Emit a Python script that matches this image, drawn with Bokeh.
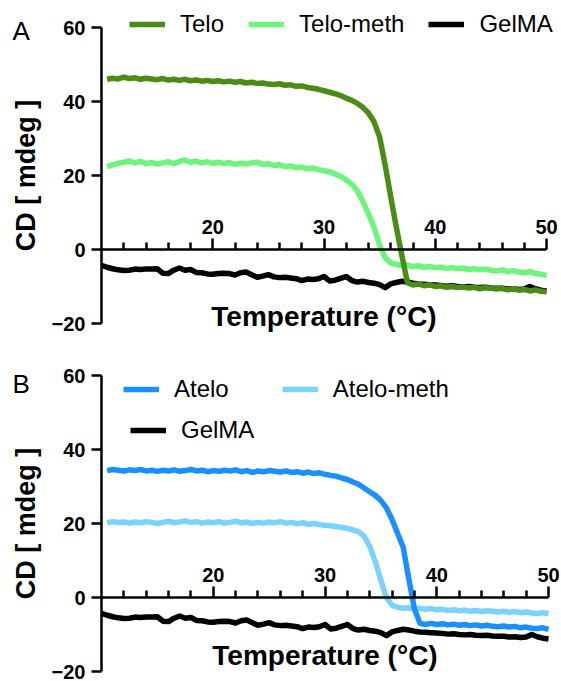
from bokeh.plotting import figure
from bokeh.models import Range1d, LinearAxis, FixedTicker, Legend, LegendItem, Label
from bokeh.layouts import column
from bokeh.embed import file_html
from bokeh.resources import INLINE

# ---------------- data ----------------
temp = [10.5, 11.0, 11.5, 12.0, 12.5, 13.0, 13.5, 14.0, 14.5, 15.0,
        15.5, 16.0, 16.5, 17.0, 17.5, 18.0, 18.5, 19.0, 19.5, 20.0,
        20.5, 21.0, 21.5, 22.0, 22.5, 23.0, 23.5, 24.0, 24.5, 25.0,
        25.5, 26.0, 26.5, 27.0, 27.5, 28.0, 28.5, 29.0, 29.5, 30.0,
        30.5, 31.0, 31.5, 32.0, 32.5, 33.0, 33.5, 34.0, 34.5, 35.0,
        35.5, 36.0, 36.5, 37.0, 37.5, 38.0, 38.5, 39.0, 39.5, 40.0,
        40.5, 41.0, 41.5, 42.0, 42.5, 43.0, 43.5, 44.0, 44.5, 45.0,
        45.5, 46.0, 46.5, 47.0, 47.5, 48.0, 48.5, 49.0, 49.5, 50.0]

gel_temp = [10.0, 10.5, 11.0, 11.5, 12.0, 12.5, 13.0, 13.5, 14.0, 14.5, 15.0,
            15.5, 16.0, 16.5, 17.0, 17.5, 18.0, 18.5, 19.0, 19.5, 20.0,
            20.5, 21.0, 21.5, 22.0, 22.5, 23.0, 23.5, 24.0, 24.5, 25.0,
            25.5, 26.0, 26.5, 27.0, 27.5, 28.0, 28.5, 29.0, 29.5, 30.0,
            30.5, 31.0, 31.5, 32.0, 32.5, 33.0, 33.5, 34.0, 34.5, 35.0,
            35.5, 36.0, 36.5, 37.0, 37.5, 38.0, 38.5, 39.0, 39.5, 40.0,
            40.5, 41.0, 41.5, 42.0, 42.5, 43.0, 43.5, 44.0, 44.5, 45.0,
            45.5, 46.0, 46.5, 47.0, 47.5, 48.0, 48.5, 49.0, 49.5, 50.0]

telo = [46.0, 46.3, 46.1, 46.6,
        46.2, 46.4, 46.0, 46.3, 46.1, 45.9,
        46.2, 45.8, 46.0, 45.7, 46.0, 45.6, 45.8, 45.5, 45.7, 45.4,
        45.6, 45.3, 45.5, 45.2, 45.4, 45.0, 45.2, 44.9, 45.0, 44.7,
        44.6, 44.8, 44.4, 44.5, 44.1, 44.2, 43.8, 43.6, 43.3, 42.9,
        42.5, 42.1, 41.6, 40.9, 40.3, 39.5, 38.4, 36.9, 34.5, 30.4,
        22.8, 14.2, 6.0, -1.6, -9.0, -9.6, -9.3, -9.8, -9.5, -10.0,
        -9.8, -10.2, -10.0, -10.3, -10.1, -10.4, -10.2, -10.6, -10.3, -10.5,
        -10.7, -10.5, -10.9, -10.6, -11.0, -10.8, -11.2, -10.9, -11.3, -11.4]

telo_meth = [22.4, 22.9, 23.3, 23.6,
             23.9, 23.4, 23.8, 23.2, 23.5, 23.1,
             23.4, 23.7, 23.2, 23.8, 24.2, 23.6, 23.9, 23.4, 23.7, 23.3,
             23.6, 23.2, 23.5, 23.0, 23.3, 23.1, 23.4, 23.6, 23.0, 23.2,
             22.7, 22.9, 22.4, 22.6, 22.1, 22.3, 21.8, 22.0, 21.6, 21.3,
             21.0, 20.4, 19.8, 18.8, 17.6, 15.9, 12.9, 9.6, 6.0, 1.2,
             -2.3, -3.6, -4.0, -4.3, -4.2, -4.6, -4.4, -4.8, -4.6, -4.9,
             -4.8, -5.1, -4.9, -5.2, -5.0, -5.4, -5.2, -5.5, -5.3, -5.6,
             -5.8, -5.5, -6.0, -5.7, -6.1, -6.3, -6.0, -6.5, -6.7, -7.0]

gelma = [-4.3, -4.8, -5.2, -5.5, -5.7, -5.6, -5.3, -5.4, -5.3, -5.3, -5.2,
         -6.4, -6.5, -5.6, -5.0, -5.6, -5.4, -6.2, -6.3, -6.6, -6.7,
         -6.5, -6.4, -6.5, -6.9, -6.3, -6.1, -6.8, -7.5, -7.2, -6.8,
         -7.4, -7.6, -7.5, -7.7, -7.9, -8.4, -8.0, -8.1, -7.9, -7.3,
         -8.5, -8.3, -7.8, -7.3, -8.4, -8.8, -8.6, -8.9, -9.1, -9.5,
         -10.3, -9.3, -8.9, -8.6, -8.8, -9.1, -9.3, -9.4, -9.5, -9.6,
         -9.7, -9.9, -9.8, -10.0, -10.1, -10.0, -10.2, -10.3, -10.2, -10.4,
         -10.5, -10.5, -10.7, -10.6, -10.8, -10.7, -10.0, -10.6, -11.0, -11.2]

atelo = [34.3, 34.6, 34.4, 34.2,
         34.5, 34.3, 34.6, 34.2, 34.4, 34.1,
         34.4, 34.2, 34.5, 34.1, 34.3, 34.6, 34.2, 34.4, 34.0, 34.3,
         34.1, 34.4, 34.2, 34.5, 34.0, 34.3, 33.8, 34.2, 34.0, 34.3,
         34.1, 33.9, 34.2, 33.8, 34.0, 33.6, 33.9, 33.5, 33.7, 33.3,
         33.0, 32.8, 32.3, 31.9, 31.2, 30.6, 29.6, 28.6, 27.6, 26.2,
         24.2, 21.1, 17.3, 13.6, 5.0, -3.0, -7.0, -7.3, -7.0, -7.3,
         -7.1, -7.4, -7.2, -7.5, -7.3, -7.6, -7.4, -7.7, -7.5, -7.8,
         -7.9, -7.7, -8.0, -7.8, -8.2, -8.0, -8.3, -8.4, -8.2, -8.6]

atelo_meth = [20.2, 20.5, 20.3, 20.4,
              20.1, 20.4, 20.2, 20.5, 20.3, 20.0,
              20.3, 20.6, 20.2, 20.4, 20.7, 20.3, 20.5, 20.1, 20.4, 20.2,
              20.5, 20.1, 20.3, 20.6, 20.2, 20.4, 20.0, 20.3, 20.1, 20.4,
              20.2, 20.5, 20.1, 20.3, 19.9, 20.2, 19.8, 20.0, 19.7, 19.5,
              19.4, 19.2, 18.9, 18.7, 18.3, 17.8, 16.6, 13.8, 9.8, 4.6,
              0.0, -2.1, -2.6, -2.9, -2.8, -3.1, -2.9, -3.2, -3.0, -3.3,
              -3.2, -3.5, -3.3, -3.6, -3.4, -3.7, -3.5, -3.8, -3.6, -3.7,
              -3.9, -3.7, -4.0, -3.8, -4.1, -3.9, -4.2, -4.3, -4.1, -4.4]

x_major_ticks = [20, 30, 40, 50]
x_minor_ticks = [12, 14, 16, 18, 22, 24, 26, 28, 32, 34, 36, 38, 42, 44, 46, 48]
y_ticks = [-20, 0, 20, 40, 60]
y_tick_labels = {-20: "\u221220"}
X_MIN, X_MAX = 10, 50
Y_MIN, Y_MAX = -20, 60

# ---------------- styling / layout ----------------
FONT = "Liberation Sans"
C_TELO = "#4a8c16"
C_TELO_METH = "#6cf57a"
C_ATELO = "#1a8fff"
C_ATELO_METH = "#7ad3ff"
C_GEL = "#000000"
LW = 5.5
W = 561
AX_LEFT = 101                   # pixel column of x = 10
FRAME_H = 296                   # pixel height of y = -20 .. 60


def make_panel(height, top, ax_right, letter, letter_y, title_y):
    ppx = (ax_right - AX_LEFT) / (X_MAX - X_MIN)
    ppy = FRAME_H / (Y_MAX - Y_MIN)
    xr = Range1d(X_MIN - AX_LEFT / ppx, X_MAX + (W - ax_right) / ppx)
    yr = Range1d(Y_MIN - (height - top - FRAME_H) / ppy, Y_MAX + top / ppy)
    p = figure(width=W, height=height, x_range=xr, y_range=yr,
               output_backend="svg", toolbar_location=None, x_axis_location=None,
               min_border_left=0, min_border_right=0, min_border_top=0,
               min_border_bottom=0, title=None)
    p.outline_line_color = None
    p.grid.grid_line_color = None
    p.background_fill_color = "white"

    ya = p.yaxis[0]
    ya.fixed_location = X_MIN
    ya.bounds = (Y_MIN, Y_MAX)
    ya.ticker = FixedTicker(ticks=y_ticks)
    ya.major_label_overrides = y_tick_labels
    ya.axis_line_width = 2.5
    ya.axis_line_color = "black"
    ya.major_tick_line_width = 2.5
    ya.major_tick_line_color = "black"
    ya.major_tick_out = 10
    ya.major_tick_in = 0
    ya.minor_tick_line_color = None
    ya.major_label_standoff = 6
    ya.major_label_text_font = FONT
    ya.major_label_text_font_size = "20px"
    ya.major_label_text_font_style = "bold"
    ya.major_label_text_color = "black"
    ya.axis_label = "CD [ mdeg ]"
    ya.axis_label_text_font = FONT
    ya.axis_label_text_font_size = "27px"
    ya.axis_label_text_font_style = "bold"
    ya.axis_label_text_color = "black"
    ya.axis_label_standoff = 8

    xa = LinearAxis(fixed_location=0, bounds=(X_MIN, X_MAX),
                    ticker=FixedTicker(ticks=x_major_ticks, minor_ticks=x_minor_ticks))
    xa.axis_line_width = 2.5
    xa.axis_line_color = "black"
    xa.major_tick_line_width = 2.5
    xa.major_tick_line_color = "black"
    xa.minor_tick_line_width = 2.5
    xa.minor_tick_line_color = "black"
    xa.major_tick_out = 11
    xa.major_tick_in = 0
    xa.minor_tick_out = 7
    xa.minor_tick_in = 0
    xa.major_label_standoff = 5
    xa.major_label_text_font = FONT
    xa.major_label_text_font_size = "20px"
    xa.major_label_text_font_style = "bold"
    xa.major_label_text_color = "black"
    p.add_layout(xa, "above")

    p.add_layout(Label(x=(X_MIN + X_MAX) / 2, x_units="data", y=title_y, y_units="screen",
                       text="Temperature (\u00b0C)", text_align="center", text_baseline="middle",
                       text_font=FONT, text_font_size="28px", text_font_style="bold",
                       text_color="black"))
    p.add_layout(Label(x=12, y=letter_y, x_units="screen", y_units="screen", text=letter,
                       text_baseline="middle", text_font=FONT, text_font_size="26px",
                       text_color="black"))
    return p


def legend(items, loc, spacing):
    return Legend(items=items, location=loc, orientation="horizontal",
                  background_fill_alpha=0, border_line_color=None, padding=0, margin=0,
                  spacing=spacing, glyph_width=36, glyph_height=20, label_standoff=15,
                  label_text_font=FONT, label_text_font_size="24px", label_height=20,
                  label_text_color="black")


# ---------------- panel A ----------------
pA = make_panel(347, 27, 546, "A", 317, 31)
rg = pA.line(gel_temp, gelma, line_width=LW, color=C_GEL, line_join="round")
rtm = pA.line(temp, telo_meth, line_width=LW, color=C_TELO_METH, line_join="round")
rt = pA.line(temp, telo, line_width=LW, color=C_TELO, line_join="round")
pA.add_layout(legend([LegendItem(label="Telo", renderers=[rt]),
                      LegendItem(label="Telo-meth", renderers=[rtm]),
                      LegendItem(label="GelMA", renderers=[rg])], (129, 309), 24))

# ---------------- panel B ----------------
pB = make_panel(334, 28, 548, "B", 298, 26)
rg2 = pB.line(gel_temp, gelma, line_width=LW, color=C_GEL, line_join="round")
ram = pB.line(temp, atelo_meth, line_width=LW, color=C_ATELO_METH, line_join="round")
ra = pB.line(temp, atelo, line_width=LW, color=C_ATELO, line_join="round")
pB.add_layout(legend([LegendItem(label="Atelo", renderers=[ra]),
                      LegendItem(label="Atelo-meth", renderers=[ram])], (123, 278), 53))
pB.add_layout(legend([LegendItem(label="GelMA", renderers=[rg2])], (130, 237), 26))

layout = column(pA, pB)
open("out.html", "w").write(file_html(layout, INLINE))
